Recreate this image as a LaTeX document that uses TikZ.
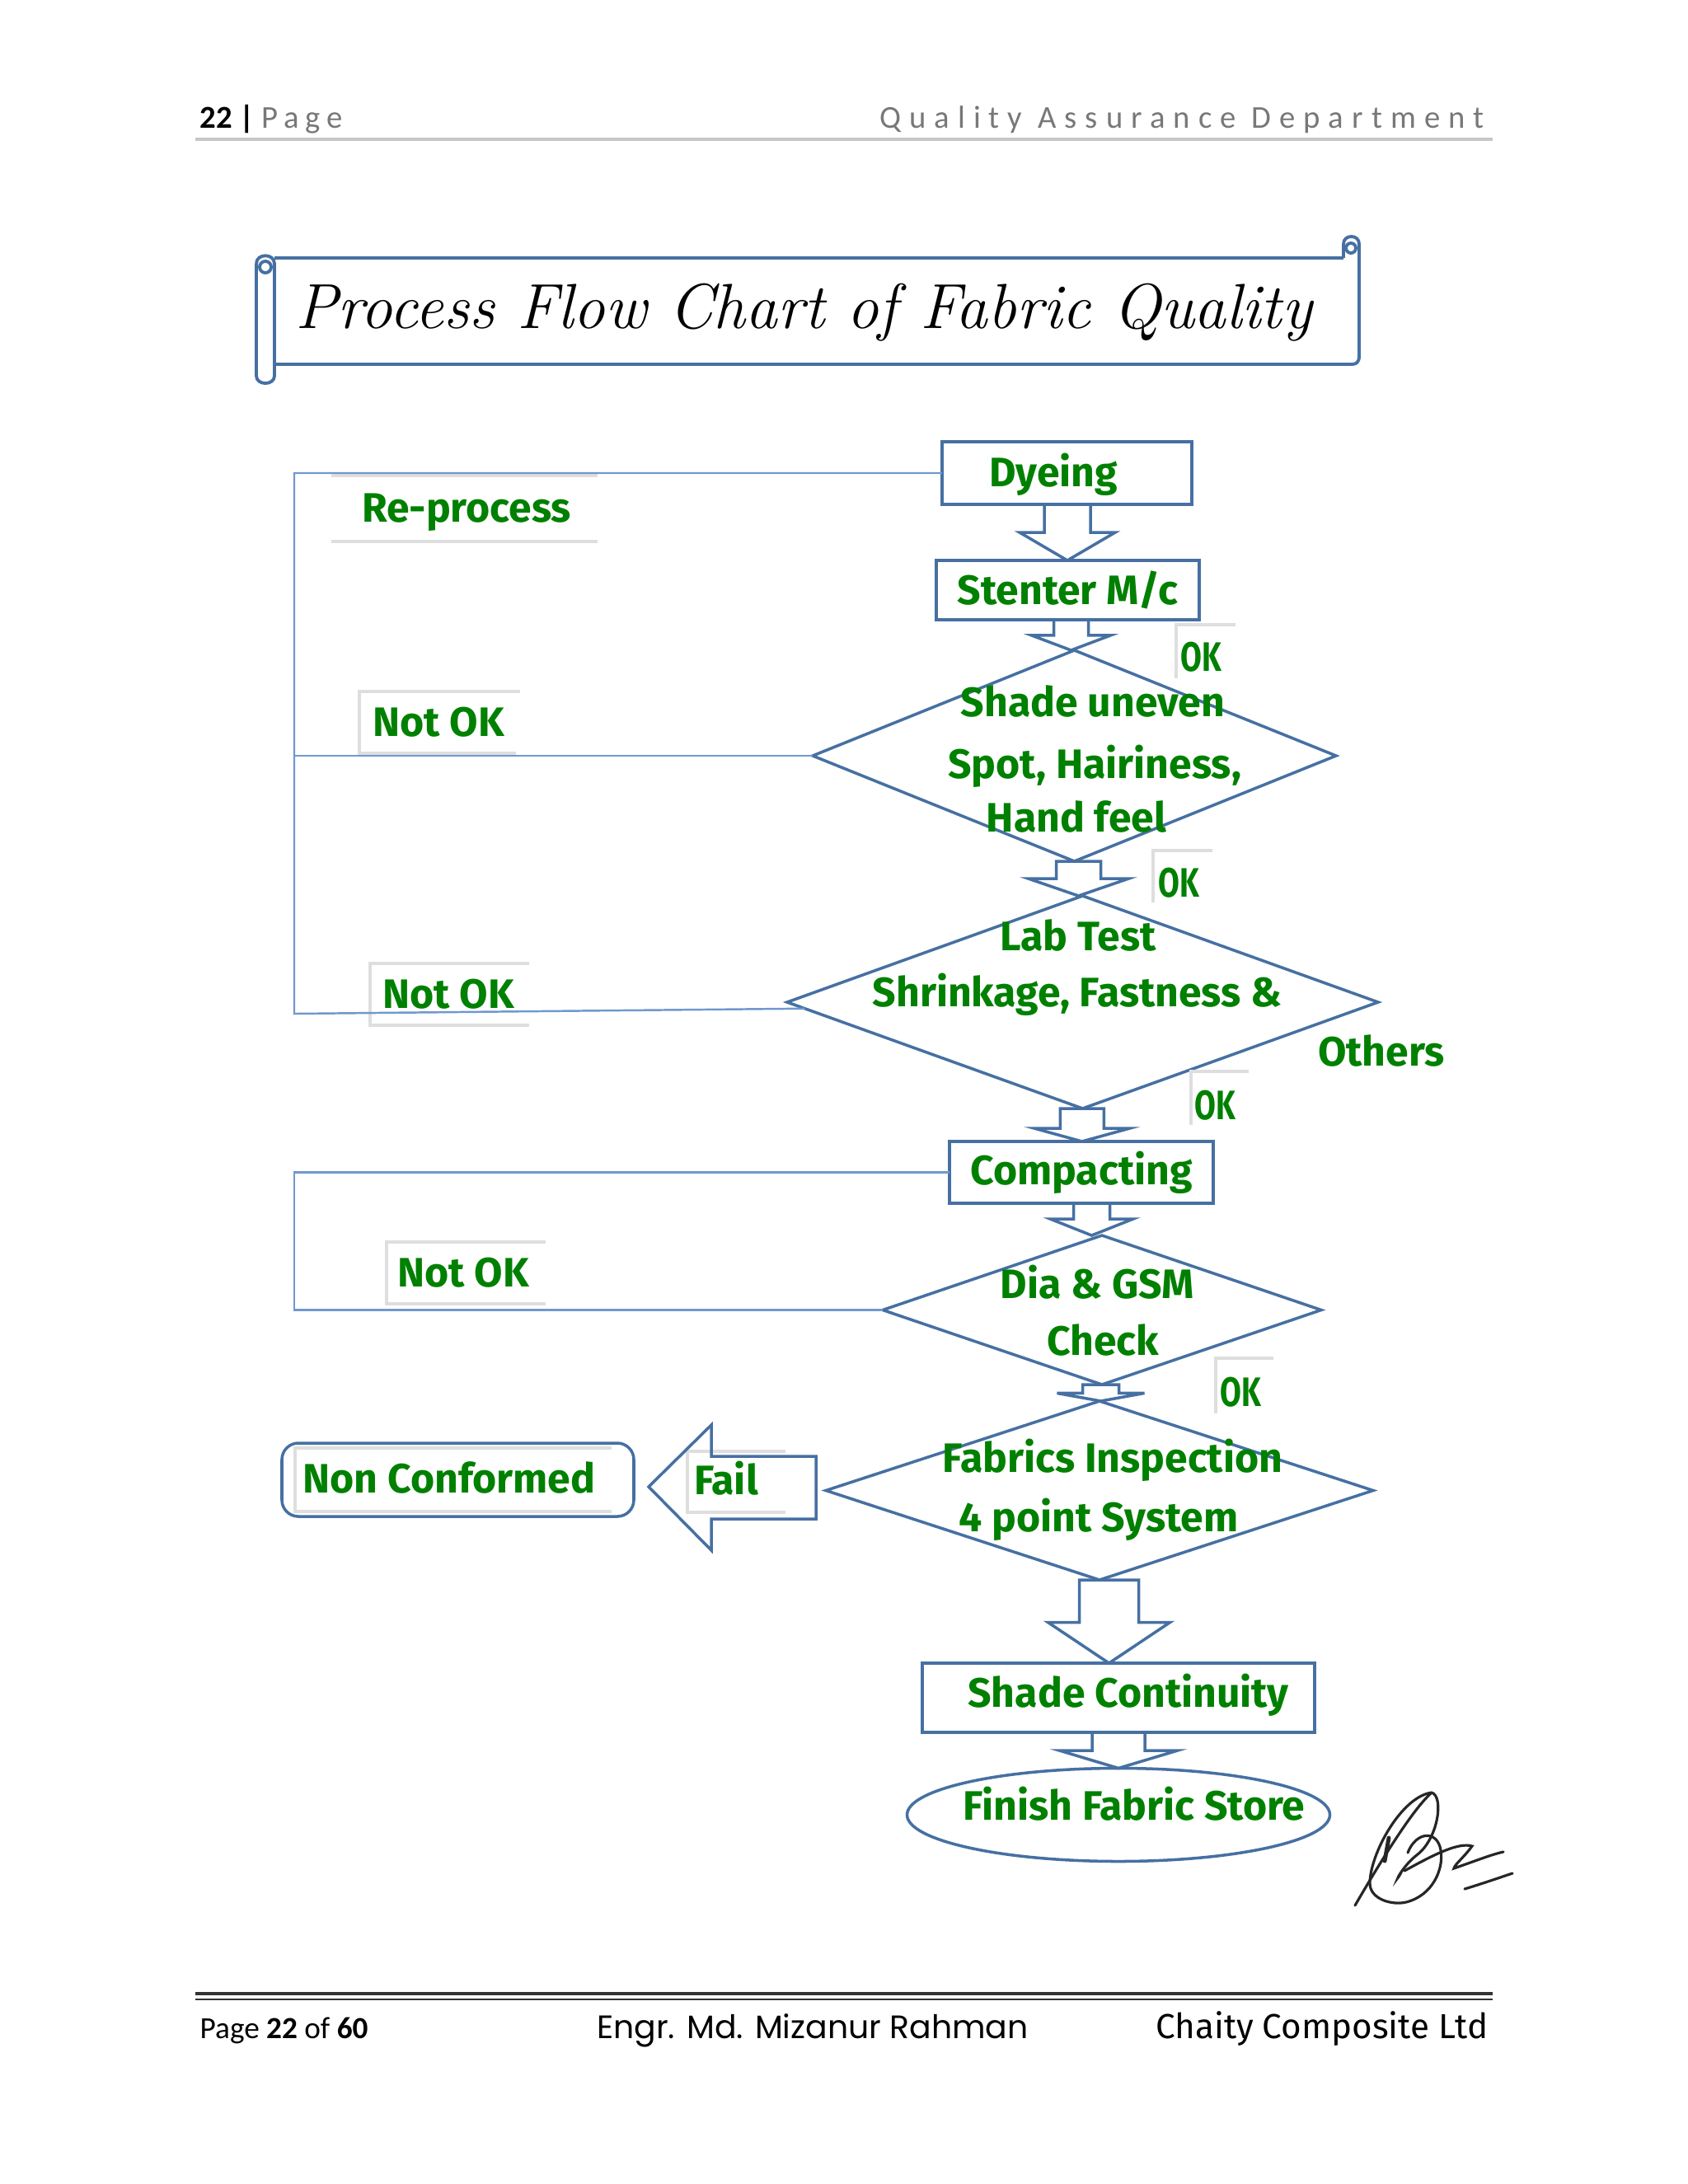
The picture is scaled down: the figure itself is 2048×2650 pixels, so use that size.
\documentclass[tikz,border=0pt]{standalone}
\usepackage{fontspec}
\newfontfamily\gfont{Fira Sans}
\newfontfamily\calib{Carlito}
\newfontfamily\calibsp{Carlito}[LetterSpace=20]
\newfontfamily\calibspw{Carlito}[LetterSpace=26]
\newfontfamily\gothic{Poppins}
\usetikzlibrary{shapes.geometric,calc}
\definecolor{boxblue}{RGB}{70,112,162}
\definecolor{linkblue}{RGB}{112,152,206}
\definecolor{fgreen}{RGB}{0,128,0}
\definecolor{framegray}{RGB}{222,222,222}
\definecolor{headgray}{RGB}{120,120,120}
\newcommand\gsize{\fontsize{14.2}{16}\selectfont}
\newcommand\barrow[5]{%
  \draw[barrow] let \p1=($(#1.south)!0.5!(#2.north)$), \p2=(#1.south), \p3=(#2.north),
    \p4=($(#1.south)!#3!(#2.north)$) in
    (\x1-#4,\y2) -- (\x1-#4,\y4) -- (\x1-#5,\y4) -- (\x1,\y3) -- (\x1+#5,\y4) -- (\x1+#4,\y4) -- (\x1+#4,\y2) -- cycle;}
\begin{document}
\begin{tikzpicture}[x=0.1mm,y=-0.1mm,
  flowbox/.style={draw=boxblue, line width=1pt, inner sep=0pt, outer sep=0pt, text=fgreen, font=\gfont\bfseries\gsize},
  dia/.style={diamond, draw=boxblue, line width=1pt, inner sep=0pt, outer sep=0pt},
  gtext/.style={text=fgreen, font=\gfont\bfseries\gsize, inner sep=0pt, anchor=base},
  link/.style={draw=linkblue, line width=0.7pt},
  frag/.style={draw=framegray, line width=1pt},
  barrow/.style={draw=boxblue, line width=1pt, line join=miter},
  scroll/.style={draw=boxblue, line width=1.1pt}]
\useasboundingbox (0,0) rectangle (2048,2650);
\fill[white] (0,0) rectangle (2048,2650);

% header
\node[anchor=base west, inner sep=0pt, font=\calib\fontsize{11}{13}\selectfont] (hdl) at (242,155) {\textbf{22} \textbf{|} {\color{headgray}\calibsp Page}};
\node[anchor=base east, inner sep=0pt, font=\calibspw\fontsize{11}{13}\selectfont, text=headgray] (hdr) at (1801,155) {Quality Assurance Department};
\draw[draw=black!22, line width=1pt] (237,169) -- (1811,169);

% title scroll
\draw[scroll] (333,313) -- (1630,313);
\draw[scroll] (1630,313) -- (1630,296) .. controls (1630,284) and (1649,284) .. (1649,296) -- (1649,432) .. controls (1649,440) and (1645,442) .. (1640,442) -- (333,442);
\draw[scroll] (311,320) -- (311,456) .. controls (311,468) and (333,468) .. (333,456) -- (333,320) .. controls (333,307) and (311,307) .. (311,320);
\draw[scroll] (322,324) circle (7);
\draw[scroll] (1639,301) circle (6);
\node[anchor=base, inner sep=0pt, font=\itshape\fontsize{22}{25}\selectfont] (title) at (975,398) {Process Flow Chart of Fabric Quality};

% flow nodes
\node[flowbox, minimum width=30.3mm, minimum height=7.6mm] (dye) at (1294.5,574) {};
\node[flowbox, minimum width=31.9mm, minimum height=7.2mm] (sten) at (1295.5,716) {Stenter M/c};
\node[dia, minimum width=63.5mm, minimum height=25.6mm] (d1) at (1303.5,917) {};
\node[dia, minimum width=71.7mm, minimum height=25.8mm] (d2) at (1313.5,1216) {};
\node[flowbox, minimum width=32mm, minimum height=7.5mm] (comp) at (1312,1422.5) {Compacting};
\node[dia, minimum width=53.2mm, minimum height=18.1mm] (d3) at (1337,1589.5) {};
\node[dia, minimum width=66.4mm, minimum height=21.7mm] (d4) at (1334,1808.5) {};
\node[flowbox, minimum width=47.6mm, minimum height=8.4mm] (shade) at (1357,2060) {};
\node[ellipse, draw=boxblue, line width=1pt, inner sep=0pt, outer sep=0pt, minimum width=51.3mm, minimum height=11.3mm] (store) at (1357,2202) {};
\node[flowbox, rounded corners=2mm, minimum width=42.7mm, minimum height=8.9mm] (nc) at (555.5,1795.5) {};

% label frame fragments
\draw[frag] (402,577) -- (725,577) (402,657) -- (725,657);
\draw[frag] (631,839) -- (436,839) -- (436,914) -- (626,914);
\draw[frag] (642,1169) -- (449,1169) -- (449,1244) -- (642,1244);
\draw[frag] (662,1507) -- (469,1507) -- (469,1582) -- (662,1582);
\draw[frag] (1499,758) -- (1427,758) -- (1427,823);
\draw[frag] (1471,1032) -- (1399,1032) -- (1399,1095);
\draw[frag] (1515,1300) -- (1445,1300) -- (1445,1365);
\draw[frag] (1545,1648) -- (1475,1648) -- (1475,1715);
\draw[frag] (953,1761) -- (834,1761) -- (834,1835) -- (953,1835);
\draw[frag] (742,1757) -- (358,1757) -- (358,1834) -- (742,1834);

% texts
\node[gtext] (t0) at (1278,590) {Dyeing};
\node[gtext] (tnc) at (545,1811) {Non Conformed};
\node[gtext] (t1a) at (1326,869) {Shade uneven};
\node[gtext] (t1b) at (1328,944) {Spot, Hairiness,};
\node[gtext] (t1c) at (1306,1009) {Hand feel};
\node[gtext] (t2a) at (1308,1153) {Lab Test};
\node[gtext] (t2b) at (1307,1221) {Shrinkage, Fastness \&};
\node[gtext] (t2c) at (1676,1293) {Others};
\node[gtext] (t3a) at (1331,1575) {Dia \& GSM};
\node[gtext] (t3b) at (1338,1644) {Check};
\node[gtext] (t4a) at (1350,1786) {Fabrics Inspection};
\node[gtext] (t4b) at (1333,1858) {4 point System};
\node[gtext] (t5) at (1369,2071) {Shade Continuity};
\node[gtext] (t6) at (1376,2208) {Finish Fabric Store};
\node[gtext] (rp) at (566,633) {Re-process};
\node[gtext] (nok1) at (532,893) {Not OK};
\node[gtext] (nok2) at (544,1223) {Not OK};
\node[gtext] (nok3) at (562,1561) {Not OK};
\node[gtext] (ok1) at (1457,814) {\scalebox{0.75}[1]{OK}};
\node[gtext] (ok2) at (1430,1088) {\scalebox{0.75}[1]{OK}};
\node[gtext] (ok3) at (1474,1358) {\scalebox{0.75}[1]{OK}};
\node[gtext] (ok4) at (1505,1706) {\scalebox{0.75}[1]{OK}};
\node[gtext] (fail) at (881,1813) {Fail};

% block arrows
\barrow{dye}{sten}{0.5}{2.8mm}{5.8mm}
\barrow{sten}{d1}{0.51}{2.1mm}{4.8mm}
\barrow{d1}{d2}{0.5}{2.7mm}{6.1mm}
\barrow{d2}{comp}{0.6}{2.65mm}{5.8mm}
\barrow{comp}{d3}{0.49}{2.2mm}{5.0mm}
\barrow{d3}{d4}{0.52}{2.2mm}{5.3mm}
\barrow{d4}{shade}{0.51}{3.6mm}{7.4mm}
\barrow{shade}{store}{0.51}{3.2mm}{7.1mm}
\draw[barrow] (990,1767) -- (863,1767) -- (863,1729) -- (787,1804) -- (863,1881) -- (863,1843) -- (990,1843) -- cycle;

% re-process loops
\coordinate (c1) at (357,574);
\coordinate (c2) at (357,1230);
\coordinate (d2in) at ($(d2.west)!0.06!(d2.south)$);
\draw[link] (dye.west) -- (c1) -- (c2) -- (d2in);
\draw[link] (d1.west) -- (d1.west -| c1);
\coordinate (c3) at (comp.west -| c1);
\coordinate (c4) at (d3.west -| c1);
\draw[link] (comp.west) -- (c3) -- (c4) -- (d3.west);

% signature
\begin{scope}[line width=0.9pt, line cap=round, black!85]
\draw (1644,2312) .. controls (1680,2250) and (1715,2195) .. (1736,2176);
\draw (1737,2175) .. controls (1700,2180) and (1662,2250) .. (1662,2285) .. controls (1662,2305) and (1690,2312) .. (1706,2308) .. controls (1738,2300) and (1752,2268) .. (1748,2245) .. controls (1744,2220) and (1718,2222) .. (1708,2248);
\draw (1737,2175) .. controls (1752,2180) and (1745,2230) .. (1720,2250) .. controls (1700,2265) and (1690,2290) .. (1700,2272);
\draw (1704,2270) .. controls (1740,2250) and (1770,2235) .. (1786,2240) .. controls (1775,2255) and (1765,2262) .. (1764,2267) .. controls (1790,2258) and (1810,2250) .. (1824,2247);
\draw (1777,2292) .. controls (1800,2285) and (1820,2278) .. (1835,2273);
\draw[line width=1.4pt] (1685,2230) -- (1680,2258);
\end{scope}

% footer
\draw[black!80, line width=1.1pt] (237,2419) -- (1811,2419);
\draw[black!80, line width=0.5pt] (237,2426) -- (1811,2426);
\node[anchor=base west, inner sep=0pt, font=\calib\fontsize{10.6}{13}\selectfont] (fl) at (242,2473) {Page \textbf{22} of \textbf{60}};
\node[anchor=base, inner sep=0pt, font=\gothic\fontsize{11.2}{14}\selectfont] (fm) at (986,2473) {Engr. Md. Mizanur Rahman};
\node[anchor=base east, inner sep=0pt, font=\gfont\fontsize{12}{14}\selectfont] (fr) at (1806,2473) {Chaity Composite Ltd};
\end{tikzpicture}
\end{document}
